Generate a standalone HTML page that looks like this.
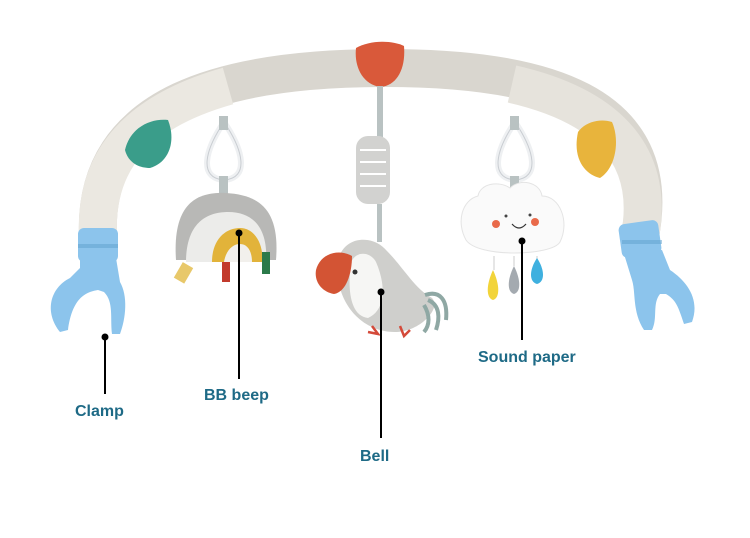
<!DOCTYPE html>
<html><head><meta charset="utf-8"><style>
html,body{margin:0;padding:0;background:#fff;}
svg{display:block;}
text{font-family:"Liberation Sans",Arial,sans-serif;font-weight:bold;font-size:16px;fill:#1e6a86;}
</style></head><body>
<svg width="750" height="538" viewBox="0 0 750 538" xmlns="http://www.w3.org/2000/svg">
<rect width="750" height="538" fill="#fff"/>
<!-- hanging rings -->
<path d="M224,122 C205,150 198,178 224,180 C250,178 243,150 224,122Z" fill="none" stroke="#eef0f2" stroke-width="6"/>
<path d="M224,122 C205,150 198,178 224,180 C250,178 243,150 224,122Z" fill="none" stroke="#c9cdd2" stroke-width="1"/>
<path d="M515,122 C496,150 489,178 515,180 C541,178 534,150 515,122Z" fill="none" stroke="#eef0f2" stroke-width="6"/>
<path d="M515,122 C496,150 489,178 515,180 C541,178 534,150 515,122Z" fill="none" stroke="#c9cdd2" stroke-width="1"/>
<rect x="219" y="116" width="9" height="14" fill="#b9c2c2"/>
<rect x="219" y="176" width="9" height="22" fill="#b9c2c2"/>
<rect x="510" y="116" width="9" height="14" fill="#b9c2c2"/>
<rect x="510" y="176" width="9" height="12" fill="#b9c2c2"/>
<!-- arch -->
<path d="M98,236 C92,100 230,68 385,68 C540,68 666,100 640,236" fill="none" stroke="#d9d6cf" stroke-width="38"/>
<path d="M98,236 C94,150 150,108 228,86" fill="none" stroke="#ebe8e1" stroke-width="38"/>
<path d="M640,236 C656,150 600,104 512,84" fill="none" stroke="#e6e3dc" stroke-width="38"/>
<!-- leaves -->
<path d="M125,150 C130,128 150,118 168,120 C176,140 170,162 150,168 C138,168 128,162 125,150Z" fill="#3a9d8a"/>
<path d="M356,48 C370,40 392,40 404,46 C406,70 396,86 380,87 C362,84 354,66 356,48Z" fill="#d9593a"/>
<path d="M578,132 C585,122 600,118 612,122 C620,140 616,168 600,178 C586,175 572,160 578,132Z" fill="#e8b43c"/>
<!-- spring / bell string -->
<rect x="377" y="86" width="6" height="52" fill="#b9c2c2"/>
<rect x="356" y="136" width="34" height="68" rx="12" fill="#d2d2d0"/>
<g stroke="#fff" stroke-width="2"><line x1="360" y1="150" x2="386" y2="150"/><line x1="360" y1="162" x2="386" y2="162"/><line x1="360" y1="174" x2="386" y2="174"/><line x1="360" y1="186" x2="386" y2="186"/></g>
<rect x="377" y="204" width="5" height="38" fill="#b9c2c2"/>
<!-- rainbow -->
<path d="M176,260 C172,200 200,192 226,193 C260,195 280,210 276,260Z" fill="#b8b8b6"/>
<path d="M186,262 C186,220 210,212 228,212 C255,212 268,230 266,262Z" fill="#ececea"/>
<path d="M212,262 C212,240 225,228 240,228 C255,228 264,245 262,262Z" fill="#e2b33a"/>
<path d="M224,262 C226,250 233,244 240,244 C248,244 252,252 252,262Z" fill="#f2f0ec"/>
<rect x="178" y="264" width="12" height="18" fill="#e8c86a" transform="rotate(30 184 272)"/>
<rect x="222" y="262" width="8" height="20" fill="#c23a2c"/>
<rect x="262" y="252" width="8" height="22" fill="#2b7a4a"/>
<!-- bird -->
<path d="M338,262 C342,236 372,234 386,250 C404,268 414,288 432,298 C442,308 420,332 395,332 C360,332 334,300 338,262Z" fill="#cfcfcc"/>
<path d="M350,270 C350,250 370,250 376,262 C386,285 386,310 368,318 C352,316 348,295 350,270Z" fill="#f6f6f4"/>
<path d="M316,270 C320,254 338,248 352,256 C352,274 346,292 334,294 C322,292 314,282 316,270Z" fill="#d35434"/>
<circle cx="355" cy="272" r="2.5" fill="#333"/>
<path d="M425,295 C440,290 448,300 446,320 M428,300 C440,305 440,318 436,330 M424,305 C430,315 430,325 424,332" fill="none" stroke="#8fa8a4" stroke-width="4"/>
<path d="M372,326 L378,334 L368,332 M400,326 L404,336 L410,330" fill="none" stroke="#d44a3a" stroke-width="2.5"/>
<!-- cloud -->
<path d="M466,240 C456,222 462,200 478,196 C480,184 498,180 510,188 C520,178 540,182 542,196 C560,196 570,222 560,242 C552,256 478,258 466,240Z" fill="#fafafa" stroke="#e4e4e4"/>
<circle cx="496" cy="224" r="4" fill="#e96a4a"/><circle cx="535" cy="222" r="4" fill="#e96a4a"/>
<circle cx="506" cy="216" r="1.5" fill="#444"/><circle cx="530" cy="215" r="1.5" fill="#444"/>
<path d="M512,224 Q519,232 526,224" fill="none" stroke="#333" stroke-width="1.2"/>
<line x1="494" y1="256" x2="494" y2="270" stroke="#ccc"/><line x1="514" y1="256" x2="514" y2="266" stroke="#ccc"/><line x1="537" y1="256" x2="537" y2="262" stroke="#ccc"/>
<path d="M493,270 C500,285 500,298 493,300 C486,298 486,285 493,270Z" fill="#f2d43a"/>
<path d="M514,266 C521,280 521,292 514,294 C507,292 507,280 514,266Z" fill="#a4aab0"/>
<path d="M537,258 C545,270 545,282 537,284 C529,282 529,270 537,258Z" fill="#3fb0df"/>
<!-- clamps -->
<g fill="#8cc4ec">
<rect x="78" y="228" width="40" height="34" rx="6"/>
<path d="M80,258 L116,258 L120,282 C128,296 126,318 120,334 L112,334 C110,318 114,302 104,292 L98,290 C84,292 72,300 68,330 L60,332 C44,312 50,288 70,278 L80,268Z"/>
<rect x="620" y="222" width="40" height="34" rx="6" transform="rotate(-8 640 239)"/>
<path d="M624,254 L662,250 L670,270 C688,282 700,300 692,322 L684,324 C678,306 676,300 666,294 L660,294 C652,304 658,318 652,330 L644,330 C632,312 636,292 632,280Z"/>
</g>
<g fill="#5e9fcc" opacity="0.5"><rect x="78" y="244" width="40" height="4"/><rect x="622" y="240" width="40" height="4"/></g>
<!-- leader lines -->
<g stroke="#000" stroke-width="2">
<line x1="105" y1="337" x2="105" y2="394"/>
<line x1="239" y1="233" x2="239" y2="379"/>
<line x1="381" y1="292" x2="381" y2="438"/>
<line x1="522" y1="241" x2="522" y2="340"/>
</g>
<g fill="#000"><circle cx="105" cy="337" r="3.5"/><circle cx="239" cy="233" r="3.5"/><circle cx="381" cy="292" r="3.5"/><circle cx="522" cy="241" r="3.5"/></g>
<text x="75" y="416">Clamp</text>
<text x="204" y="400">BB beep</text>
<text x="360" y="461">Bell</text>
<text x="478" y="362">Sound paper</text>
</svg>
</body></html>
